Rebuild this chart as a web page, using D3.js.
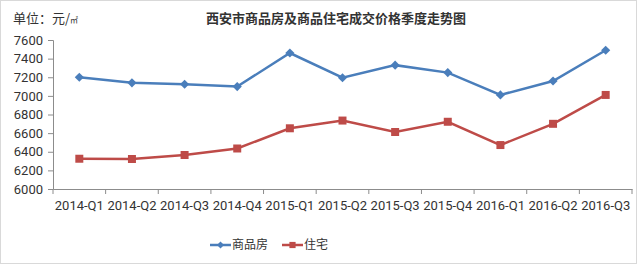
<!DOCTYPE html>
<html>
<head>
<meta charset="utf-8">
<script src="https://cdn.jsdelivr.net/npm/d3@7/dist/d3.min.js"></script>
<style>
body { margin: 0; background: #fff; }
text { font-family: "Noto Sans CJK SC", "Noto Sans", sans-serif; fill: #333; }
.axis text { font-family: Roboto, "Liberation Sans", sans-serif; font-size: 13px; fill: #333; }
.axis path, .axis line { stroke: #8c8c8c; }
</style>
</head>
<body>
<div class="chart"></div>
<script>
const quarters = ['2014-Q1','2014-Q2','2014-Q3','2014-Q4','2015-Q1','2015-Q2','2015-Q3','2015-Q4','2016-Q1','2016-Q2','2016-Q3'];
const commercial = [7200, 7140, 7125, 7100, 7460, 7195, 7330, 7250, 7010, 7160, 7490];
const housing = [6325, 6322, 6365, 6435, 6652, 6735, 6612, 6722, 6472, 6700, 7010];
const yTicks = [6000, 6200, 6400, 6600, 6800, 7000, 7200, 7400, 7600];

const svg_width = 639, svg_height = 265;
const margin = {top: 40, right: 7, bottom: 76, left: 53};
const chart_width = svg_width - margin.left - margin.right;
const chart_height = svg_height - margin.top - margin.bottom;

const svg = d3.select('.chart').append('svg')
    .attr('width', svg_width).attr('height', svg_height);

svg.append('rect')
    .attr('x', 0.5).attr('y', 0.5)
    .attr('width', svg_width - 3).attr('height', svg_height - 2)
    .style('fill', 'none').style('stroke', '#d9d9d9');

const g = svg.append('g').attr('transform', `translate(${margin.left},${margin.top})`);

const xScale = d3.scaleBand().domain(quarters).range([0, chart_width]);
const yScale = d3.scaleLinear().domain([6000, 7600]).range([chart_height, 0]);

// y axis
g.append('g').attr('class', 'axis')
    .call(d3.axisLeft(yScale).tickValues(yTicks).tickFormat(d3.format('d'))
        .tickSizeOuter(0).tickSize(5).tickPadding(5));

// x axis with ticks between categories
const xAxisG = g.append('g').attr('class', 'axis')
    .attr('transform', `translate(0,${chart_height})`)
    .call(d3.axisBottom(xScale).tickSize(0).tickPadding(12));
xAxisG.selectAll('.tick-sep')
    .data(d3.range(quarters.length + 1))
    .enter().append('line')
    .attr('class', 'tick-sep')
    .attr('x1', i => i * xScale.step()).attr('x2', i => i * xScale.step())
    .attr('y1', 0).attr('y2', 5);

const series = [
    {name: '商品房', color: '#4a7ebb', values: commercial, shape: d3.symbolSquare, rot: 45, size: 42},
    {name: '住宅', color: '#be4b48', values: housing, shape: d3.symbolSquare, rot: 0, size: 64}
];

const lineGen = d3.line()
    .x((d, i) => xScale(quarters[i]) + xScale.bandwidth() / 2)
    .y(d => yScale(d));

series.forEach(s => {
    g.append('path')
        .attr('d', lineGen(s.values))
        .style('fill', 'none')
        .style('stroke', s.color)
        .style('stroke-width', 2.5);
    g.selectAll(null).data(s.values).enter().append('path')
        .attr('d', d3.symbol().type(s.shape).size(s.size))
        .attr('transform', (d, i) => `translate(${xScale(quarters[i]) + xScale.bandwidth() / 2},${yScale(d)}) rotate(${s.rot})`)
        .style('fill', s.color);
});

// title
svg.append('text')
    .attr('x', 336).attr('y', 23)
    .attr('text-anchor', 'middle')
    .style('font-size', '13px').style('font-weight', 'bold')
    .text('西安市商品房及商品住宅成交价格季度走势图');

// unit
const unit = svg.append('text').attr('x', 13).attr('y', 23).style('font-size', '13px');
unit.append('tspan').text('单位：元/');
unit.append('tspan').text('㎡').style('font-size', '8px');

// legend
const legend = svg.append('g').attr('transform', 'translate(210,245)');
const legendX = [0, 72];
series.forEach((s, i) => {
    const lg = legend.append('g').attr('transform', `translate(${legendX[i]},0)`);
    lg.append('line').attr('x1', 0).attr('x2', 21).attr('y1', 0).attr('y2', 0)
        .style('stroke', s.color).style('stroke-width', 2.5);
    lg.append('path').attr('d', d3.symbol().type(s.shape).size(s.size * 0.6))
        .attr('transform', `translate(10.5,0) rotate(${s.rot})`).style('fill', s.color);
    lg.append('text').attr('x', 22).attr('y', 0).attr('dy', '0.35em')
        .style('font-size', '12px').text(s.name);
});
</script>
</body>
</html>
